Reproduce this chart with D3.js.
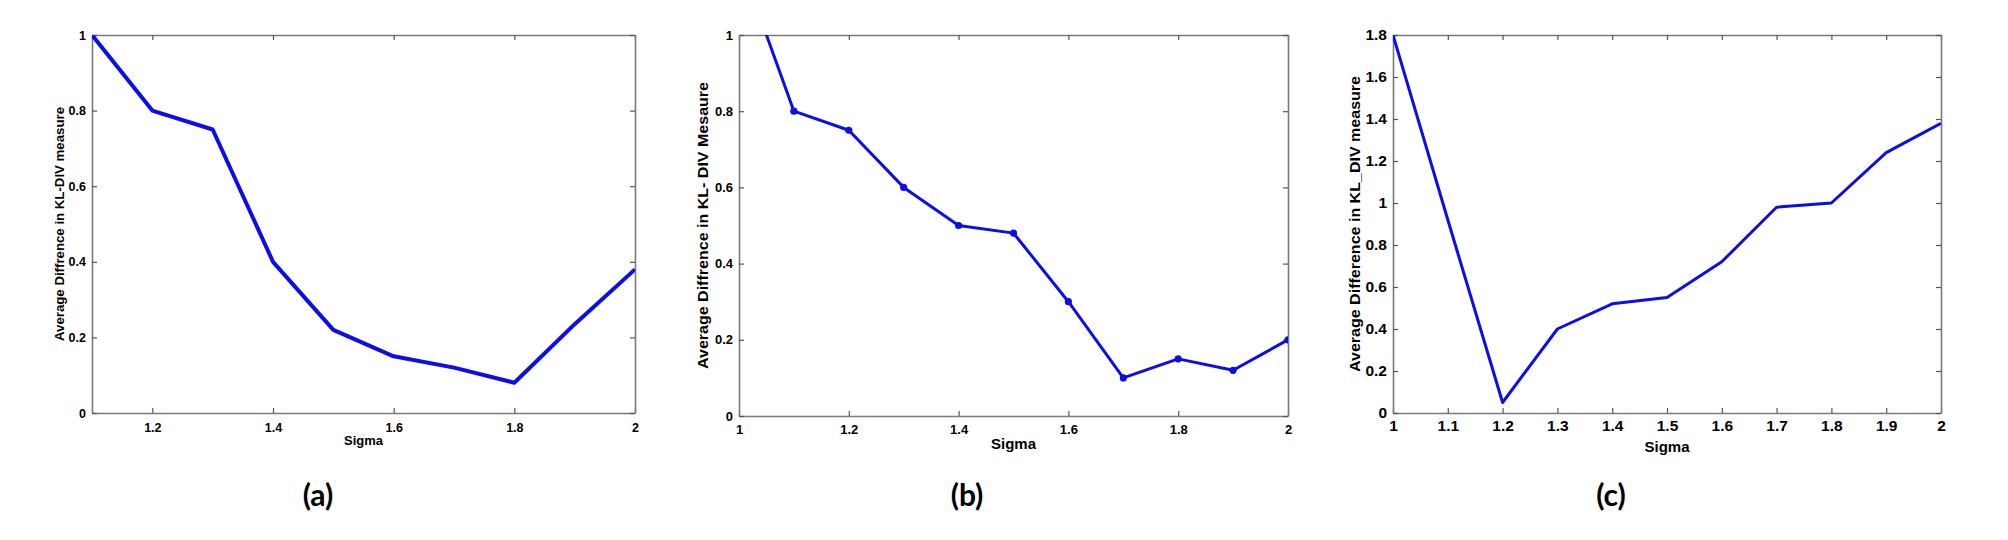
<!DOCTYPE html>
<html>
<head>
<meta charset="utf-8">
<script src="https://cdn.jsdelivr.net/npm/d3@7"></script>
<style>
  html, body { margin: 0; padding: 0; background: #ffffff; }
  svg { display: block; }
  .tick-label { font-family: "Liberation Sans", Arial, sans-serif; font-weight: bold; fill: #000; }
  .axis-title { font-family: "Liberation Sans", Arial, sans-serif; font-weight: bold; fill: #000; }
  .panel-label { font-family: Lato, "Open Sans", sans-serif; font-weight: bold; fill: #000; }
</style>
</head>
<body>
<svg id="chart" width="2008" height="540"></svg>
<script>
// ---------- data ----------
const sigmaA = [1.1, 1.2, 1.3, 1.4, 1.5, 1.6, 1.7, 1.8, 1.9, 2.0];
const kldivA = [1.0, 0.8, 0.75, 0.4, 0.22, 0.15, 0.12, 0.08, 0.235, 0.38];

const sigmaB = [1.0, 1.1, 1.2, 1.3, 1.4, 1.5, 1.6, 1.7, 1.8, 1.9, 2.0];
const kldivB = [1.2, 0.8, 0.75, 0.6, 0.5, 0.48, 0.3, 0.1, 0.15, 0.12, 0.2];

const sigmaC = [1.0, 1.1, 1.2, 1.3, 1.4, 1.5, 1.6, 1.7, 1.8, 1.9, 2.0];
const kldivC = [1.8, 0.92, 0.05, 0.4, 0.52, 0.55, 0.72, 0.98, 1.0, 1.24, 1.38];

const xTicksA = [1.2, 1.4, 1.6, 1.8, 2];
const yTicksA = [0, 0.2, 0.4, 0.6, 0.8, 1];
const xTicksB = [1, 1.2, 1.4, 1.6, 1.8, 2];
const yTicksB = [0, 0.2, 0.4, 0.6, 0.8, 1];
const xTicksC = [1, 1.1, 1.2, 1.3, 1.4, 1.5, 1.6, 1.7, 1.8, 1.9, 2];
const yTicksC = [0, 0.2, 0.4, 0.6, 0.8, 1, 1.2, 1.4, 1.6, 1.8];

const xTitle = "Sigma";
const yTitleA = "Average Diffrence in KL-DIV measure";
const yTitleB = "Average Diffrence in KL- DIV Mesaure";
const yTitleC = "Average Difference in KL_DIV measure";
const panelLabels = ["(a)", "(b)", "(c)"];

// ---------- drawing ----------
const svg = d3.select("#chart");
const fmt = d => String(+d.toFixed(1));
const lineColor = "#0d0de8";
const axisColor = "#7a7a7a";

function drawPanel(cfg, idx) {
  const {left, right, top, bottom, xDomain, yDomain, xs, ys, xTicks, yTicks,
         tickFont, titleFont, titleOffset, xPad, yTitle, yTitleX, yTitleLen, lineW, markers, labelX} = cfg;
  const x = d3.scaleLinear().domain(xDomain).range([left, right]);
  const y = d3.scaleLinear().domain(yDomain).range([bottom, top]);
  const g = svg.append("g");

  const clipId = "clip" + idx;
  g.append("clipPath").attr("id", clipId)
    .append("rect").attr("x", left).attr("y", top)
    .attr("width", right - left).attr("height", bottom - top);

  const tl = 5;
  const axB = g.append("g").attr("transform", `translate(0,${bottom})`)
    .call(d3.axisBottom(x).tickValues(xTicks).tickFormat(fmt).tickSizeInner(-tl).tickSizeOuter(0).tickPadding(xPad));
  const axT = g.append("g").attr("transform", `translate(0,${top})`)
    .call(d3.axisTop(x).tickValues(xTicks).tickFormat("").tickSizeInner(-tl).tickSizeOuter(0));
  const axL = g.append("g").attr("transform", `translate(${left},0)`)
    .call(d3.axisLeft(y).tickValues(yTicks).tickFormat(fmt).tickSizeInner(-tl).tickSizeOuter(0).tickPadding(6));
  const axR = g.append("g").attr("transform", `translate(${right},0)`)
    .call(d3.axisRight(y).tickValues(yTicks).tickFormat("").tickSizeInner(-tl).tickSizeOuter(0));
  [axB, axT, axL, axR].forEach(a => {
    a.select(".domain").attr("stroke", axisColor).attr("stroke-width", 1.6);
    a.selectAll(".tick line").attr("stroke", "#555").attr("stroke-width", 1.2);
    a.selectAll(".tick text").attr("class", "tick-label").attr("font-size", tickFont)
      .attr("font-family", null).attr("fill", "#000");
  });
  axB.selectAll(".tick text").attr("dy", "0.85em");

  const line = d3.line().x((d, i) => x(xs[i])).y(d => y(d));
  g.append("path").datum(ys)
    .attr("clip-path", `url(#${clipId})`)
    .attr("d", line)
    .attr("fill", "none")
    .attr("stroke", lineColor)
    .attr("stroke-width", lineW)
    .attr("stroke-linejoin", "round");

  if (markers) {
    g.append("g").attr("clip-path", `url(#${clipId})`)
      .selectAll("circle").data(ys).join("circle")
      .attr("cx", (d, i) => x(xs[i])).attr("cy", d => y(d))
      .attr("r", 3.6).attr("fill", lineColor);
  }

  g.append("text").attr("class", "axis-title")
    .attr("x", (left + right) / 2).attr("y", bottom + titleOffset)
    .attr("text-anchor", "middle").attr("font-size", titleFont)
    .text(xTitle);

  const cy = (top + bottom) / 2;
  g.append("text").attr("class", "axis-title")
    .attr("transform", `translate(${yTitleX},${cy}) rotate(-90)`)
    .attr("text-anchor", "middle").attr("dominant-baseline", "central")
    .attr("font-size", cfg.yTitleFont)
    .attr("textLength", yTitleLen).attr("lengthAdjust", "spacingAndGlyphs")
    .text(yTitle);

  svg.append("text").attr("class", "panel-label")
    .attr("x", labelX).attr("y", 494)
    .attr("text-anchor", "middle").attr("dominant-baseline", "central")
    .attr("font-size", 30)
    .text(panelLabels[idx]);
}

drawPanel({left: 92, right: 635, top: 35, bottom: 413, xDomain: [1.1, 2], yDomain: [0, 1],
  xs: sigmaA, ys: kldivA, xTicks: xTicksA, yTicks: yTicksA, tickFont: 12.5, titleFont: 13, titleOffset: 32, xPad: 8,
  yTitle: yTitleA, yTitleX: 60, yTitleLen: 234, yTitleFont: 12, lineW: 4, markers: false, labelX: 318}, 0);

drawPanel({left: 739, right: 1288, top: 35, bottom: 416, xDomain: [1, 2], yDomain: [0, 1],
  xs: sigmaB, ys: kldivB, xTicks: xTicksB, yTicks: yTicksB, tickFont: 13, titleFont: 15, titleOffset: 33, xPad: 7,
  yTitle: yTitleB, yTitleX: 703, yTitleLen: 287, yTitleFont: 14, lineW: 3, markers: true, labelX: 967}, 1);

drawPanel({left: 1393, right: 1941, top: 35, bottom: 413, xDomain: [1, 2], yDomain: [0, 1.8],
  xs: sigmaC, ys: kldivC, xTicks: xTicksC, yTicks: yTicksC, tickFont: 15.5, titleFont: 15, titleOffset: 39, xPad: 5,
  yTitle: yTitleC, yTitleX: 1355, yTitleLen: 296, yTitleFont: 14, lineW: 3, markers: false, labelX: 1611}, 2);
</script>
</body>
</html>
